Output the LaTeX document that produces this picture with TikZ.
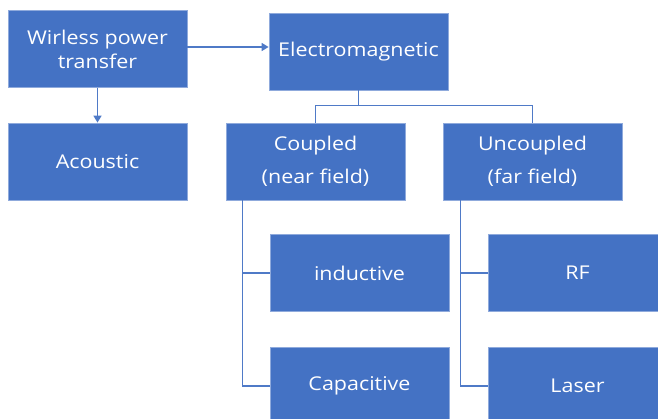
\documentclass[tikz,border=0pt]{standalone}
\usepackage{fontspec}
\setmainfont{Open Sans}
\newfontfamily\boxfont[FakeStretch=1.13]{Open Sans}
\usetikzlibrary{arrows.meta,calc}
\definecolor{boxblue}{HTML}{4472C4}
\definecolor{edgeblue}{HTML}{8FAADC}
\definecolor{lineblue}{HTML}{4F7AC7}
\tikzset{
  blk/.style={draw=edgeblue, line width=0.8pt, fill=boxblue, text=white, minimum width=179pt, minimum height=77pt, inner sep=0pt, align=center, font=\boxfont\fontsize{19}{24}\selectfont},
  blk2/.style={blk, font=\boxfont\fontsize{19}{33}\selectfont},
  conn/.style={draw=lineblue, line width=1.3pt},
  arr/.style={conn, line width=1.6pt, -{Triangle[length=7pt,width=8pt]}}
}
\begin{document}
\begin{tikzpicture}[x=1pt,y=-1pt]
\useasboundingbox (0,0) rectangle (658,418);
\clip (0,0) rectangle (658,418);
\node[blk] (wpt) at (97.5,49) {Wirless power\\transfer};
\node[blk] (ac) at (97.5,161.5) {Acoustic};
\node[blk] (em) at (358.5,51.5) {Electromagnetic};
\node[blk2] (cp) at (315.5,161.5) {Coupled\\(near field)};
\node[blk2] (uc) at (532.5,161.5) {Uncoupled\\(far field)};
\node[blk] (ind) at (359.5,273) {inductive};
\node[blk, minimum height=78pt] (cap) at (359.5,386) {Capacitive};
\node[blk] (rf) at (577.5,273) {RF};
\node[blk, minimum height=78pt] (las) at (577.5,386) {Laser};
\draw[arr] ($(wpt.east)+(0,-2)$) -- ($(wpt.east -| em.west)+(0,-2)$);
\draw[arr] (wpt.south) -- (ac.north);
\coordinate (emj) at ($(em.south)+(0,15)$);
\draw[conn] (em.south) -- (emj) -| (cp.north);
\draw[conn] (emj) -| (uc.north);
\coordinate (cpl) at ($(cp.south west)+(17,0)$);
\draw[conn] (cpl) |- (ind.west);
\draw[conn] (cpl) |- (cap.west);
\coordinate (ucl) at ($(uc.south west)+(18,0)$);
\draw[conn] (ucl) |- (rf.west);
\draw[conn] (ucl) |- (las.west);
\end{tikzpicture}
\end{document}
